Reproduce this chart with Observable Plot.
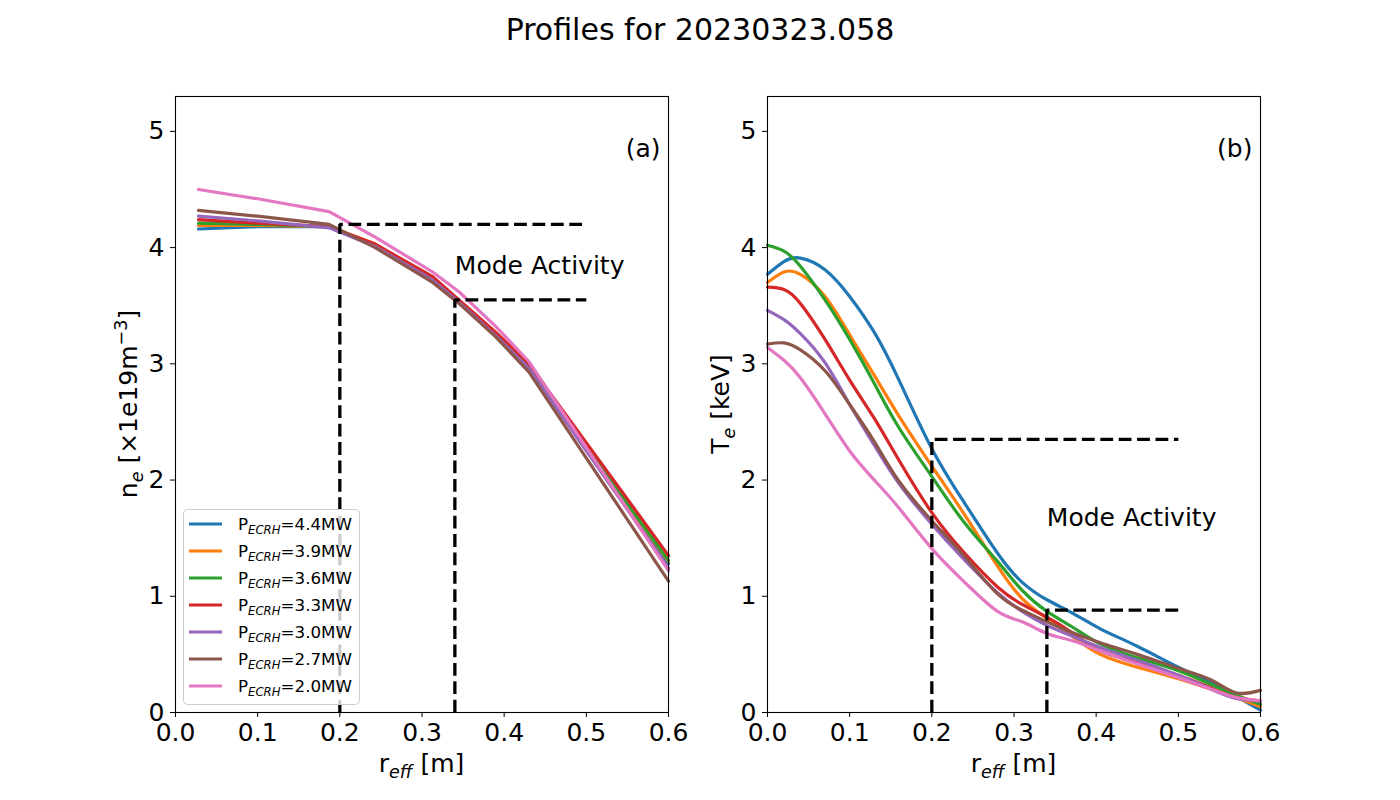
<!DOCTYPE html>
<html>
<head>
<meta charset="utf-8">
<script src="https://cdn.jsdelivr.net/npm/d3@7"></script>
<script src="https://cdn.jsdelivr.net/npm/@observablehq/plot@0.6"></script>
<style>
  body { margin: 0; background: #fff; font-family: "DejaVu Sans", sans-serif; }
  #page { position: relative; width: 1400px; height: 800px; overflow: hidden; }
  #title { position: absolute; top: 0; left: 0; width: 1400px; height: 60px; line-height: 60px;
           text-align: center; font-size: 30px; color: #000; }
  #left { position: absolute; left: 0; top: 60px; }
  #right { position: absolute; left: 700px; top: 60px; }
</style>
</head>
<body>
<div id="page">
  <div id="title">Profiles for 20230323.058</div>
  <div id="left"></div>
  <div id="right"></div>
</div>
<script>
// ---------- data ----------
const powers = ["4.4", "3.9", "3.6", "3.3", "3.0", "2.7", "2.0"];
const colors = ["#1f77b4", "#ff7f0e", "#2ca02c", "#d62728", "#9467bd", "#8c564b", "#e377c2"];

const xTicks = [0, 0.1, 0.2, 0.3, 0.4, 0.5, 0.6];
const yTicks = [0, 1, 2, 3, 4, 5];

// (a) electron density, r_eff [m] -> n_e [1e19 m^-3]
const neR = [0.028, 0.1, 0.187, 0.243, 0.313, 0.345, 0.39, 0.43, 0.6];
const ne_44 = [4.16, 4.18, 4.18, 4.02, 3.72, 3.54, 3.25, 2.97, 1.28];
const ne_39 = [4.19, 4.19, 4.18, 4.03, 3.73, 3.54, 3.25, 2.97, 1.30];
const ne_36 = [4.21, 4.20, 4.18, 4.02, 3.72, 3.54, 3.25, 2.97, 1.31];
const ne_33 = [4.24, 4.21, 4.18, 4.03, 3.75, 3.55, 3.27, 3.00, 1.35];
const ne_30 = [4.27, 4.23, 4.17, 4.01, 3.72, 3.53, 3.24, 2.96, 1.24];
const ne_27 = [4.32, 4.27, 4.20, 4.00, 3.70, 3.52, 3.23, 2.93, 1.13];
const ne_20 = [4.50, 4.42, 4.31, 4.09, 3.79, 3.62, 3.32, 3.02, 1.22];

// (b) electron temperature, r_eff [m] -> T_e [keV]
const teR = [0, 0.02, 0.04, 0.07, 0.1, 0.13, 0.16, 0.2, 0.24, 0.28, 0.31, 0.34, 0.37, 0.405, 0.45, 0.5, 0.54, 0.57, 0.6];
const te_44 = [3.77, 3.88, 3.91, 3.81, 3.58, 3.27, 2.86, 2.27, 1.80, 1.37, 1.12, 0.97, 0.86, 0.72, 0.57, 0.39, 0.26, 0.14, 0.02];
const te_39 = [3.70, 3.79, 3.77, 3.58, 3.25, 2.90, 2.55, 2.12, 1.70, 1.26, 0.98, 0.81, 0.66, 0.50, 0.39, 0.29, 0.20, 0.13, 0.05];
const te_36 = [4.02, 3.97, 3.84, 3.55, 3.21, 2.83, 2.45, 2.03, 1.63, 1.30, 1.05, 0.87, 0.74, 0.59, 0.47, 0.36, 0.24, 0.15, 0.07];
const te_33 = [3.66, 3.64, 3.52, 3.21, 2.86, 2.53, 2.17, 1.72, 1.37, 1.08, 0.93, 0.82, 0.69, 0.53, 0.43, 0.32, 0.21, 0.13, 0.10];
const te_30 = [3.46, 3.38, 3.26, 3.01, 2.65, 2.30, 1.97, 1.62, 1.31, 1.03, 0.87, 0.75, 0.66, 0.56, 0.45, 0.32, 0.20, 0.12, 0.10];
const te_27 = [3.17, 3.18, 3.12, 2.94, 2.65, 2.33, 1.99, 1.65, 1.34, 1.02, 0.88, 0.78, 0.69, 0.60, 0.50, 0.38, 0.28, 0.17, 0.19];
const te_20 = [3.14, 3.03, 2.88, 2.57, 2.25, 2.00, 1.76, 1.41, 1.12, 0.87, 0.78, 0.68, 0.62, 0.53, 0.42, 0.30, 0.20, 0.13, 0.10];

// mode-activity boxes: start radius, level, common end radius
const modeR = [0.2, 0.34];
const modeNe = [4.2, 3.55];
const modeTe = [2.35, 0.88];
const modeEnd = 0.5;

// ---------- helpers ----------
const neSeries = [ne_44, ne_39, ne_36, ne_33, ne_30, ne_27, ne_20];
const teSeries = [te_44, te_39, te_36, te_33, te_30, te_27, te_20];

function rows(rArr, seriesArr) {
  return seriesArr.flatMap((vals, i) => rArr.map((r, j) => ({r, v: vals[j], s: powers[i]})));
}
function boxRows(levels) {
  return modeR.flatMap((r0, i) => [
    {r: r0, v: 0, g: i}, {r: r0, v: levels[i], g: i}, {r: modeEnd, v: levels[i], g: i}
  ]);
}

function panel({data, boxes, curve, marginLeft, marginRight, letter, modeLabelY}) {
  return Plot.plot({
    width: 700, height: 740,
    marginLeft, marginRight, marginTop: 36, marginBottom: 88,
    style: {fontFamily: "DejaVu Sans", fontSize: "25px", color: "black", background: "transparent"},
    x: {domain: [0, 0.6]},
    y: {domain: [0, 5.3]},
    color: {domain: powers, range: colors},
    marks: [
      Plot.line(data, {x: "r", y: "v", stroke: "s", strokeWidth: 3.2, curve}),
      Plot.line(boxes, {x: "r", y: "v", z: "g", stroke: "black", strokeWidth: 3.3, strokeDasharray: "12.8,5.6", strokeLinejoin: "miter", strokeLinecap: "butt"}),
      Plot.text(["Mode Activity"], {x: modeR[1], y: modeLabelY, text: d => d, textAnchor: "start", fontSize: 25, fill: "black"}),
      Plot.text([letter], {frameAnchor: "top-right", text: d => d, textAnchor: "end", lineAnchor: "middle", dx: -8, dy: 52, fontSize: 25, fill: "black"}),
      Plot.axisX({ticks: xTicks, tickFormat: d3.format(".1f"), tickSize: 5, tickPadding: 6, fontSize: 25, label: null}),
      Plot.axisY({ticks: yTicks, tickFormat: d3.format("d"), tickSize: 5, tickPadding: 6, fontSize: 25, label: null}),
      Plot.frame({stroke: "black", strokeWidth: 1.1})
    ]
  });
}

function richText(svg, x, y, parts, size, rotate) {
  const t = svg.append("text")
    .attr("x", x).attr("y", y)
    .attr("font-family", "DejaVu Sans").attr("font-size", size)
    .attr("text-anchor", "middle").attr("fill", "black");
  if (rotate) t.attr("transform", `rotate(${rotate},${x},${y})`);
  let shift = 0;
  for (const p of parts) {
    const span = t.append("tspan").text(p.t);
    let target = 0;
    if (p.sub) { target = size * 0.24; span.attr("font-size", size * 0.7).attr("font-style", "italic"); }
    if (p.sup) { target = -size * 0.42; span.attr("font-size", size * 0.7); }
    if (target !== shift) { span.attr("dy", target - shift); shift = target; }
  }
  return t;
}

// ---------- left panel ----------
const left = panel({
  data: rows(neR, neSeries), boxes: boxRows(modeNe), curve: "linear",
  marginLeft: 175, marginRight: 32, letter: "(a)", modeLabelY: 3.84
});
document.getElementById("left").appendChild(left);
const ls = d3.select(left);
richText(ls, 421.5, 712, [{t: "r"}, {t: "eff", sub: true}, {t: " [m]"}], 25);
richText(ls, 137, 344, [{t: "n"}, {t: "e", sub: true}, {t: " [×1e19m"}, {t: "−3", sup: true}, {t: "]"}], 25, -90);

// legend (inside axes a)
const lg = ls.append("g").attr("text-anchor", "start");
lg.append("rect").attr("x", 183.5).attr("y", 449.5).attr("width", 176).attr("height", 195)
  .attr("rx", 4).attr("fill", "white").attr("fill-opacity", 0.8).attr("stroke", "#cccccc").attr("stroke-width", 1);
powers.forEach((p, i) => {
  const cy = 464 + i * 27;
  lg.append("line").attr("x1", 189).attr("x2", 222).attr("y1", cy).attr("y2", cy)
    .attr("stroke", colors[i]).attr("stroke-width", 3.2);
  const t = lg.append("text").attr("x", 238).attr("y", cy + 6).attr("text-anchor", "start")
    .attr("font-family", "DejaVu Sans").attr("font-size", 16.7).attr("fill", "black");
  t.append("tspan").text("P");
  t.append("tspan").text("ECRH").attr("font-size", 11.7).attr("font-style", "italic").attr("dy", 4);
  t.append("tspan").text(`=${p}MW`).attr("dy", -4);
});

// ---------- right panel ----------
const right = panel({
  data: rows(teR, teSeries), boxes: boxRows(modeTe), curve: "natural",
  marginLeft: 67, marginRight: 140, letter: "(b)", modeLabelY: 1.67
});
document.getElementById("right").appendChild(right);
const rs = d3.select(right);
richText(rs, 313.5, 712, [{t: "r"}, {t: "eff", sub: true}, {t: " [m]"}], 25);
richText(rs, 29, 344, [{t: "T"}, {t: "e", sub: true}, {t: " [keV]"}], 25, -90);
</script>
</body>
</html>
